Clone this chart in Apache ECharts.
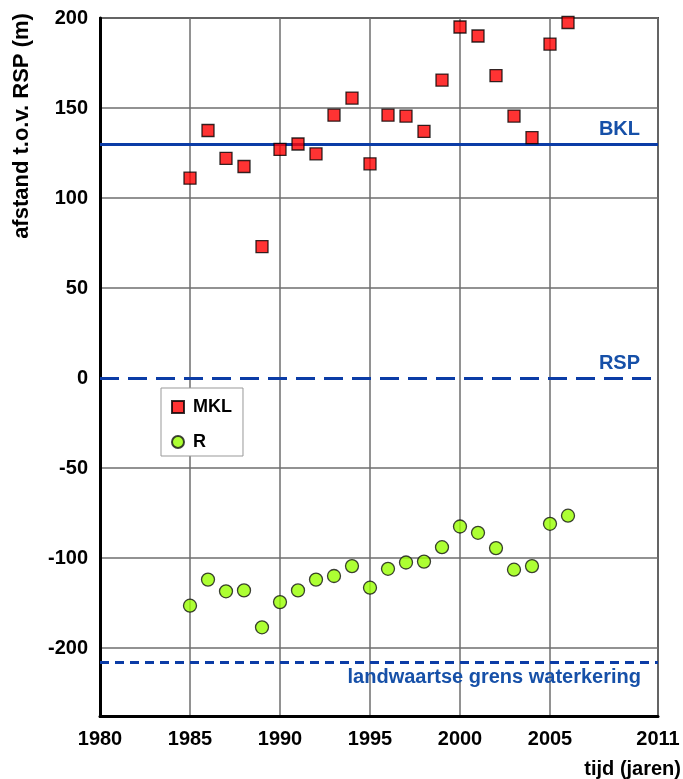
<!DOCTYPE html>
<html>
<head>
<meta charset="utf-8">
<script src="https://cdn.jsdelivr.net/npm/echarts@6/dist/echarts.min.js"></script>
<style>
  html, body { margin: 0; padding: 0; background: #ffffff; }
  #chart { width: 683px; height: 779px; }
</style>
</head>
<body>
<div id="chart"></div>
<script>
// Jaarlijkse metingen
const years = [1985, 1986, 1987, 1988, 1989, 1990, 1991, 1992, 1993, 1994, 1995,
               1996, 1997, 1998, 1999, 2000, 2001, 2002, 2003, 2004, 2005, 2006];
const mklValues = [111, 137.5, 122, 117.5, 73, 127, 130, 124.5, 146, 155.5, 119,
                   146, 145.5, 137, 165.5, 195, 190, 168, 145.5, 133.5, 185.5, 197.5];
const rValues = [-126.5, -112, -118.5, -118, -138.5, -124.5, -118, -112, -110, -104.5, -116.5,
                 -106, -102.5, -102, -94, -82.5, -86, -94.5, -106.5, -104.5, -81, -76.5];

// Referentielijnen
const refLineNames = ['BKL', 'RSP', 'landwaartse grens waterkering'];
const refLineValues = [130, 0, -158];

// Asindeling
const xTickValues = [1980, 1985, 1990, 1995, 2000, 2005, 2011];
const yTickValues = [-150, -100, -50, 0, 50, 100, 150, 200];
const yTickLabels = ['-200', '-100', '-50', '0', '50', '100', '150', '200'];
const xMin = 1980, xMax = 2011, yMin = -188, yMax = 200;

const FONT = '"Liberation Sans", Arial, sans-serif';
const BLUE_LINE = '#0b3ca6';
const BLUE_TEXT = '#1650a8';
const GRID_GRAY = '#6e6e6e';

const chart = echarts.init(document.getElementById('chart'), null, { renderer: 'canvas' });

const mklData = years.map((y, i) => [y, mklValues[i]]);
const rData = years.map((y, i) => [y, rValues[i]]);

const refStyles = [
  { type: 'solid', pos: 'insideEndTop', dist: [18, 5] },
  { type: [19, 9], pos: 'insideEndTop', dist: [18, 5] },
  { type: [9, 6], pos: 'insideEndBottom', dist: [17, 5] }
];

const markLineData = refLineValues.map((v, i) => ({
  yAxis: v,
  name: refLineNames[i],
  lineStyle: { color: BLUE_LINE, width: 3.2, type: refStyles[i].type },
  label: {
    show: true,
    formatter: refLineNames[i],
    position: refStyles[i].pos,
    distance: refStyles[i].dist,
    color: BLUE_TEXT,
    fontFamily: FONT,
    fontWeight: 'bold',
    fontSize: 20
  }
}));

const ySplitColors = yTickValues.map(v => (v === 0 ? 'rgba(0,0,0,0)' : GRID_GRAY));

const option = {
  animation: false,
  backgroundColor: '#ffffff',
  grid: {
    left: 100, right: 25, top: 18, bottom: 62.6,
    show: true, borderColor: '#4a4a4a', borderWidth: 2, backgroundColor: 'transparent'
  },
  legend: {
    orient: 'vertical',
    left: 161, top: 388,
    padding: [10, 11, 5, 10],
    itemGap: 17,
    itemWidth: 12, itemHeight: 12,
    borderColor: '#999999', borderWidth: 1,
    backgroundColor: '#ffffff',
    textStyle: { fontFamily: FONT, fontWeight: 'bold', fontSize: 18, color: '#000', padding: [0, 0, 0, 4] },
    data: [{ name: 'MKL', icon: 'rect' }, { name: 'R', icon: 'circle' }]
  },
  xAxis: {
    type: 'value',
    min: xMin, max: xMax,
    axisLine: { show: true, onZero: false, lineStyle: { color: '#000', width: 3 } },
    axisTick: { show: false, customValues: xTickValues },
    axisLabel: {
      customValues: xTickValues,
      margin: 13,
      fontFamily: FONT, fontWeight: 'bold', fontSize: 20, color: '#000',
      formatter: v => String(v)
    },
    splitLine: { show: true, lineStyle: { color: GRID_GRAY, width: 1.5 } }
  },
  yAxis: {
    type: 'value',
    min: yMin, max: yMax,
    axisLine: { show: true, onZero: false, lineStyle: { color: '#000', width: 3 } },
    axisTick: { show: false, customValues: yTickValues },
    axisLabel: {
      customValues: yTickValues,
      margin: 12,
      fontFamily: FONT, fontWeight: 'bold', fontSize: 20, color: '#000',
      formatter: v => {
        const i = yTickValues.indexOf(v);
        return i >= 0 ? yTickLabels[i] : '';
      }
    },
    splitLine: { show: true, lineStyle: { color: ySplitColors, width: 1.5 } }
  },
  graphic: [
    {
      type: 'text',
      x: 22, y: 126,
      rotation: Math.PI / 2,
      style: {
        text: 'afstand t.o.v. RSP (m)',
        fontFamily: FONT, fontWeight: 'bold', fontSize: 22, fill: '#000',
        align: 'center', verticalAlign: 'middle'
      }
    },
    {
      type: 'text',
      right: 2, top: 759,
      style: {
        text: 'tijd (jaren)',
        fontFamily: FONT, fontWeight: 'bold', fontSize: 20, fill: '#000'
      }
    }
  ],
  series: [
    {
      name: 'MKL',
      type: 'scatter',
      data: mklData,
      symbol: 'rect',
      symbolSize: 12,
      z: 5,
      itemStyle: { color: '#ff0000', borderColor: '#000000', borderWidth: 1.3 },
      markLine: {
        silent: true,
        symbol: ['none', 'none'],
        z: 3,
        data: markLineData
      }
    },
    {
      name: 'R',
      type: 'scatter',
      data: rData,
      symbol: 'circle',
      symbolSize: 13,
      z: 5,
      itemStyle: { color: '#99ff00', borderColor: '#111111', borderWidth: 1.3 }
    }
  ]
};

chart.setOption(option);
</script>
</body>
</html>
